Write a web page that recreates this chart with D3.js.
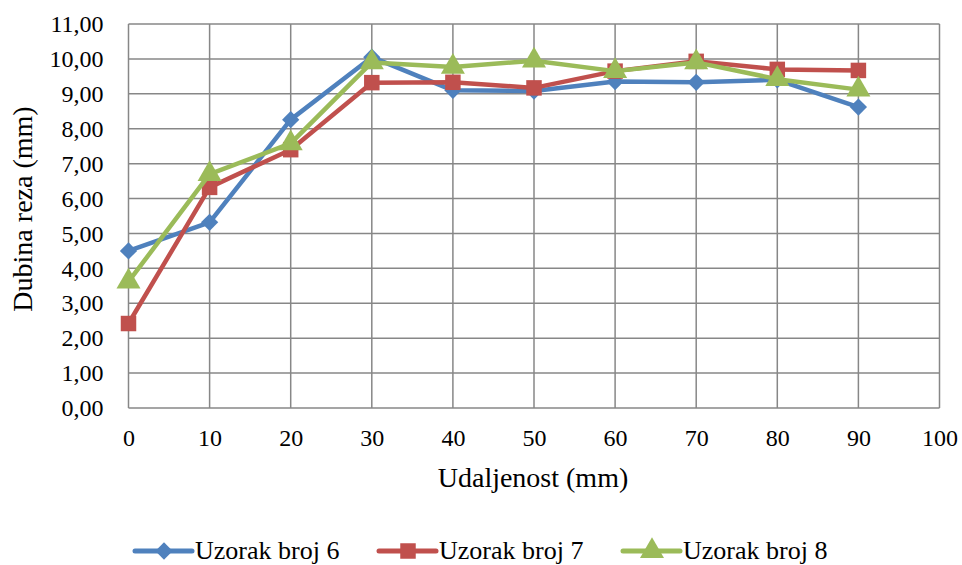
<!DOCTYPE html>
<html>
<head>
<meta charset="utf-8">
<script src="https://cdn.jsdelivr.net/npm/d3@7/dist/d3.min.js"></script>
<style>
  html, body { margin: 0; padding: 0; background: #fff; }
  svg { display: block; }
  text { font-family: "Liberation Serif", "Times New Roman", serif; fill: #000; }
</style>
</head>
<body>
<svg id="chart" width="962" height="565"></svg>
<script>
const distances = [0, 10, 20, 30, 40, 50, 60, 70, 80, 90];
const uzorak6 = [4.50, 5.32, 8.26, 10.05, 9.10, 9.08, 9.35, 9.33, 9.40, 8.62];
const uzorak7 = [2.42, 6.32, 7.40, 9.32, 9.33, 9.17, 9.65, 9.93, 9.70, 9.67];
const uzorak8 = [3.62, 6.70, 7.58, 9.90, 9.77, 9.95, 9.65, 9.90, 9.42, 9.12];
const xTicks = [0, 10, 20, 30, 40, 50, 60, 70, 80, 90, 100];
const yTicks = [0, 1, 2, 3, 4, 5, 6, 7, 8, 9, 10, 11];
const seriesNames = ["Uzorak broj 6", "Uzorak broj 7", "Uzorak broj 8"];
const xTitle = "Udaljenost (mm)";
const yTitle = "Dubina reza (mm)";

const colors = ["#4F81BD", "#C0504D", "#9BBB59"];
const symbols = [d3.symbolDiamond2, d3.symbolSquare, d3.symbolTriangle];
const symSizes = [190, 240, 250];

const svg = d3.select("#chart");
const x = d3.scaleLinear().domain([0, 100]).range([128.5, 939.5]);
const y = d3.scaleLinear().domain([0, 11]).range([408, 24]);
const fmt = v => d3.format(".2f")(v).replace(".", ",");

// gridlines
const grid = svg.append("g");
grid.selectAll("line.h").data(yTicks).join("line")
  .attr("x1", x(0)).attr("x2", x(100))
  .attr("y1", d => y(d)).attr("y2", d => y(d))
  .attr("stroke", "#878787").attr("stroke-width", 1.5);
grid.selectAll("line.v").data(xTicks).join("line")
  .attr("y1", y(0)).attr("y2", y(11))
  .attr("x1", d => x(d)).attr("x2", d => x(d))
  .attr("stroke", "#878787").attr("stroke-width", 1.5);

// axes labels via d3 axes
const yAxis = svg.append("g").attr("transform", `translate(${x(0)},0)`)
  .call(d3.axisLeft(y).tickValues(yTicks).tickFormat(fmt).tickSize(0).tickPadding(25));
yAxis.attr("font-family", null).attr("font-size", null);
yAxis.select(".domain").remove();
yAxis.selectAll("text").style("font-size", "24px");

const xAxis = svg.append("g").attr("transform", `translate(0,${y(0)})`)
  .call(d3.axisBottom(x).tickValues(xTicks).tickFormat(d3.format("d")).tickSize(0).tickPadding(21));
xAxis.attr("font-family", null).attr("font-size", null);
xAxis.select(".domain").remove();
xAxis.selectAll("text").style("font-size", "24px");

// titles
svg.append("text").attr("x", (x(0) + x(100)) / 2 - 1).attr("y", 487)
  .attr("text-anchor", "middle").style("font-size", "28px").text(xTitle);
svg.append("text").attr("transform", "translate(32,209) rotate(-90)")
  .attr("text-anchor", "middle").style("font-size", "28px").text(yTitle);

// series
const allSeries = [uzorak6, uzorak7, uzorak8];
const line = d3.line().x((d, i) => x(distances[i])).y(d => y(d));
allSeries.forEach((vals, si) => {
  const g = svg.append("g");
  g.append("path").datum(vals).attr("d", line)
    .attr("fill", "none").attr("stroke", colors[si]).attr("stroke-width", 4.5)
    .attr("stroke-linejoin", "round");
  g.selectAll("path.m").data(vals).join("path").attr("class", "m")
    .attr("transform", (d, i) => `translate(${x(distances[i])},${y(d)})`)
    .attr("d", d3.symbol().type(symbols[si]).size(symSizes[si]))
    .attr("fill", colors[si]);
});

// legend
const legendX = [135, 379, 623];
const legend = svg.append("g");
seriesNames.forEach((name, i) => {
  const g = legend.append("g").attr("transform", `translate(${legendX[i]},551)`);
  g.append("line").attr("x1", 0).attr("x2", 57).attr("y1", 0).attr("y2", 0)
    .attr("stroke", colors[i]).attr("stroke-width", 5).attr("stroke-linecap", "round");
  g.append("path").attr("transform", "translate(29,0)")
    .attr("d", d3.symbol().type(symbols[i]).size(symSizes[i]))
    .attr("fill", colors[i]);
  g.append("text").attr("x", 60).attr("y", 8).style("font-size", "26px").text(name);
});
</script>
</body>
</html>
